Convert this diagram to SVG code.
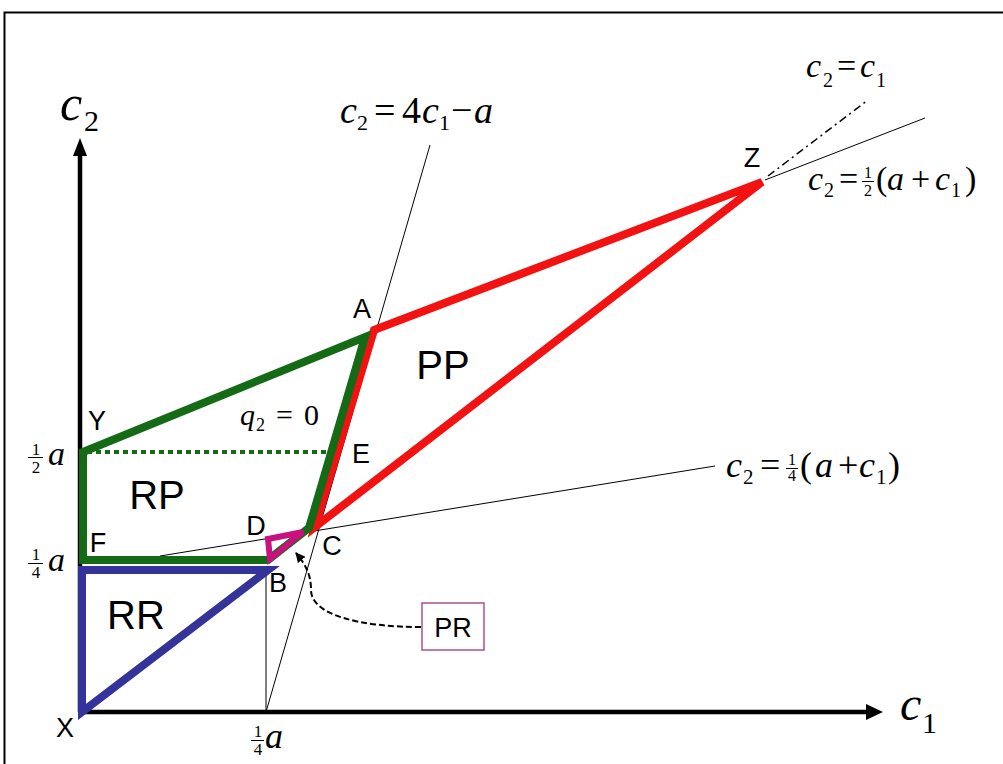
<svg xmlns="http://www.w3.org/2000/svg" width="1003" height="764" viewBox="0 0 1003 764">
<defs>
<style>
.s{font-family:"Liberation Sans",Arial,sans-serif;font-size:27px;fill:#000}
.reg{font-size:40px}
.m{font-family:"Liberation Serif","Times New Roman",serif;fill:#000}
.i{font-style:italic}
.thin{stroke:#000;stroke-width:1;fill:none}
.grn{stroke:#156b15;stroke-width:8;fill:none;stroke-linejoin:miter}
.red{stroke:#f21212;stroke-width:8;fill:none;stroke-linejoin:miter}
.blu{stroke:#333399;stroke-width:8;fill:none}
.mag{stroke:#c8107e;stroke-width:6;fill:none}
.bar{stroke:#000;stroke-width:1}
</style>
<marker id="ah" viewBox="0 0 10 10" refX="9" refY="5" markerWidth="10" markerHeight="10" markerUnits="userSpaceOnUse" orient="auto">
<path d="M0,0 L10,5 L0,10 z" fill="#000"/>
</marker>
</defs>
<rect width="1003" height="764" fill="#fff"/>
<rect x="4.5" y="12.5" width="1020" height="770" fill="none" stroke="#000" stroke-width="2"/>

<g id="connectors">
<line class="thin" x1="266" y1="712" x2="430" y2="145"/>
<line class="thin" x1="266" y1="566" x2="266" y2="712"/>
<line class="thin" x1="160" y1="556" x2="715" y2="466"/>
<line class="thin" x1="765" y1="180" x2="925" y2="118"/>
<line x1="768" y1="176" x2="868" y2="100" stroke="#000" stroke-width="1.5" stroke-dasharray="8 4 2 4"/>
<line x1="80" y1="712" x2="80" y2="154" stroke="#000" stroke-width="4.5"/>
<path d="M80,138 L73,156 L87,156 z" fill="#000"/>
<line x1="78" y1="712" x2="868" y2="712" stroke="#000" stroke-width="4.5"/>
<path d="M883,712 L866,704 L866,720 z" fill="#000"/>
<path class="blu" d="M82,712 L82,570 L268,570 Z"/>
<path class="red" d="M374,330 L762,182 L315,527 Z"/>
<path class="grn" d="M83,560 L83,452 L365,337 L309,528 L268,560 Z"/>
<line x1="87" y1="452" x2="333" y2="452" stroke="#156b15" stroke-width="4" stroke-dasharray="5 4"/>
<path class="mag" d="M268,539 L303,532 L270,559 Z"/>
<path d="M421,627 C360,627 311,615 311,590 C311,575 306,565 296,553" fill="none" stroke="#000" stroke-width="2" stroke-dasharray="6 3" marker-end="url(#ah)"/>
</g>

<g id="node-PR">
<rect x="422" y="603" width="62" height="47" fill="#fff" stroke="#b0508a" stroke-width="1.5"/>
<text class="s" x="453" y="637" font-size="30" text-anchor="middle">PR</text>
</g>

<g id="labels">
<text class="s" x="752" y="167" text-anchor="middle">Z</text>
<text class="s" x="362" y="318" text-anchor="middle">A</text>
<text class="s" x="97" y="430" text-anchor="middle">Y</text>
<text class="s" x="361" y="463" text-anchor="middle">E</text>
<text class="s" x="98" y="552" text-anchor="middle">F</text>
<text class="s" x="256" y="535" text-anchor="middle">D</text>
<text class="s" x="332" y="555" text-anchor="middle">C</text>
<text class="s" x="278" y="592" text-anchor="middle">B</text>
<text class="s" x="65" y="737" text-anchor="middle">X</text>
</g>

<g id="regions">
<text class="s reg" x="443" y="379" text-anchor="middle">PP</text>
<text class="s reg" x="157" y="509" text-anchor="middle">RP</text>
<text class="s reg" x="136" y="629" text-anchor="middle">RR</text>
</g>

<g id="math">
<text class="m" font-size="50"><tspan class="i" x="60" y="120">c</tspan><tspan x="84" y="131" font-size="30">2</tspan></text>
<text class="m" font-size="48"><tspan class="i" x="900" y="720">c</tspan><tspan x="922" y="733" font-size="30">1</tspan></text>
<text class="m" font-size="30"><tspan class="i" x="240" y="425">q</tspan><tspan x="256" y="431" font-size="18">2</tspan><tspan x="276" y="425">=</tspan><tspan x="304" y="425">0</tspan></text>
<text class="m" font-size="38"><tspan class="i" x="340" y="123">c</tspan><tspan x="357" y="130" font-size="22">2</tspan><tspan x="374" y="123">=</tspan><tspan x="402" y="123">4</tspan><tspan class="i" x="422" y="123">c</tspan><tspan x="439" y="130" font-size="22">1</tspan><tspan x="451" y="123">−</tspan><tspan class="i" x="474" y="123">a</tspan></text>
<text class="m" font-size="34"><tspan class="i" x="806" y="77">c</tspan><tspan x="823" y="87" font-size="20">2</tspan><tspan x="837" y="77">=</tspan><tspan class="i" x="860" y="77">c</tspan><tspan x="876" y="87" font-size="20">1</tspan></text>
<text class="m" font-size="34"><tspan class="i" x="808" y="190">c</tspan><tspan x="824" y="197" font-size="20">2</tspan><tspan x="839" y="190">=</tspan><tspan x="876" y="190">(</tspan><tspan class="i" x="887" y="190">a</tspan><tspan x="911" y="190">+</tspan><tspan class="i" x="935" y="190">c</tspan><tspan x="951" y="197" font-size="20">1</tspan><tspan x="965" y="190">)</tspan></text>
<text class="m" font-size="16" text-anchor="middle"><tspan x="868" y="178">1</tspan><tspan x="868" y="196">2</tspan></text>
<line class="bar" x1="862" y1="181.5" x2="874" y2="181.5"/>
<text class="m" font-size="36"><tspan class="i" x="726" y="477">c</tspan><tspan x="743" y="484" font-size="21">2</tspan><tspan x="760" y="477">=</tspan><tspan x="800" y="477">(</tspan><tspan class="i" x="815" y="477">a</tspan><tspan x="838" y="477">+</tspan><tspan class="i" x="859" y="477">c</tspan><tspan x="876" y="484" font-size="21">1</tspan><tspan x="888" y="477">)</tspan></text>
<text class="m" font-size="16" text-anchor="middle"><tspan x="792" y="465">1</tspan><tspan x="792" y="481">4</tspan></text>
<line class="bar" x1="786" y1="468.5" x2="798" y2="468.5"/>
<text class="m" font-size="17" text-anchor="middle"><tspan x="36" y="455">1</tspan><tspan x="36" y="473">2</tspan></text>
<line class="bar" x1="28" y1="457.5" x2="43" y2="457.5"/>
<text class="m i" font-size="34" x="48" y="465">a</text>
<text class="m" font-size="17" text-anchor="middle"><tspan x="36" y="560">1</tspan><tspan x="36" y="578">4</tspan></text>
<line class="bar" x1="28" y1="563.5" x2="43" y2="563.5"/>
<text class="m i" font-size="34" x="48" y="571">a</text>
<text class="m" font-size="17" text-anchor="middle"><tspan x="258" y="737">1</tspan><tspan x="258" y="755">4</tspan></text>
<line class="bar" x1="251" y1="740.5" x2="264" y2="740.5"/>
<text class="m i" font-size="36" x="265" y="748">a</text>
</g>
</svg>
